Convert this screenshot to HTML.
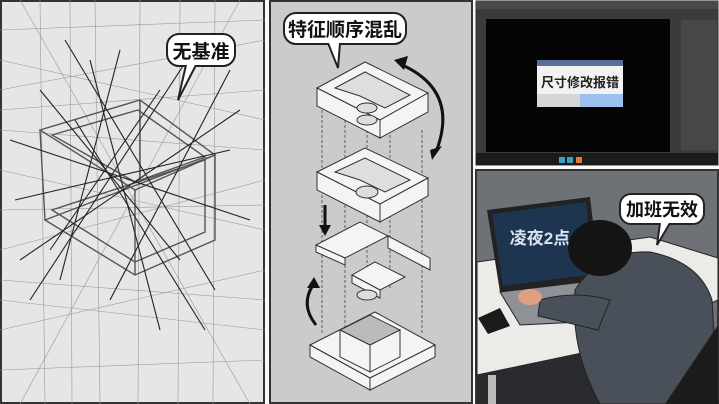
<!DOCTYPE html>
<html><head><meta charset="utf-8"><style>
html,body{margin:0;padding:0;background:#fff;}
svg{display:block;}
text{font-family:"Liberation Sans","Noto Sans CJK SC",sans-serif;font-weight:bold;}
</style></head><body>
<svg width="719" height="404" viewBox="0 0 719 404" xmlns="http://www.w3.org/2000/svg">
<rect width="719" height="404" fill="#fafafa"/>
<!-- LEFT PANEL -->
<rect x="1" y="1" width="263" height="402" fill="#e6e6e6" stroke="#333" stroke-width="2"/>
<g stroke="#999" stroke-width="0.6" fill="none">
<line x1="0" y1="60" x2="265" y2="120"/><line x1="0" y1="90" x2="265" y2="40"/><line x1="0" y1="170" x2="265" y2="230"/>
<line x1="0" y1="250" x2="265" y2="180"/><line x1="0" y1="300" x2="265" y2="330"/><line x1="0" y1="330" x2="265" y2="270"/>
<line x1="40" y1="0" x2="45" y2="404"/><line x1="95" y1="0" x2="100" y2="404"/><line x1="140" y1="0" x2="138" y2="404"/>
<line x1="215" y1="0" x2="213" y2="404"/><line x1="0" y1="130" x2="265" y2="150"/><line x1="0" y1="210" x2="265" y2="205"/>
<line x1="20" y1="0" x2="250" y2="404"/><line x1="240" y1="0" x2="20" y2="404"/><line x1="0" y1="370" x2="265" y2="360"/>
<line x1="0" y1="30" x2="265" y2="20"/><line x1="70" y1="0" x2="72" y2="404"/><line x1="180" y1="0" x2="178" y2="404"/>
<line x1="0" y1="280" x2="265" y2="300"/><line x1="0" y1="110" x2="265" y2="90"/>
</g>
<g stroke="#555" stroke-width="1.4" fill="none">
<polygon points="40,130 140,100 215,155 135,190"/>
<polygon points="45,220 135,275 215,240 215,155"/>
<line x1="40" y1="130" x2="45" y2="220"/><line x1="135" y1="190" x2="135" y2="275"/>
<polygon points="52,135 138,110 205,157 135,182"/>
<polygon points="52,210 135,262 205,232 205,160"/>
<line x1="140" y1="100" x2="140" y2="180"/>
</g>
<g stroke="#222" stroke-width="1.1">
<line x1="65" y1="40" x2="215" y2="290"/><line x1="200" y1="40" x2="30" y2="300"/><line x1="10" y1="140" x2="250" y2="220"/>
<line x1="20" y1="260" x2="240" y2="110"/><line x1="90" y1="60" x2="160" y2="330"/><line x1="40" y1="90" x2="180" y2="260"/>
<line x1="120" y1="50" x2="60" y2="280"/><line x1="15" y1="200" x2="230" y2="150"/><line x1="160" y1="90" x2="50" y2="250"/>
<line x1="75" y1="120" x2="205" y2="330"/><line x1="230" y1="70" x2="110" y2="300"/>
</g>
<rect x="167" y="34" width="68" height="32" rx="12" fill="#fff" stroke="#222" stroke-width="2"/>
<path d="M186,65 L178,100 L196,65" fill="#fff" stroke="#222" stroke-width="2"/>
<rect x="180" y="60" width="20" height="5" fill="#fff"/>
<text x="201" y="58" font-size="19" text-anchor="middle" fill="#111">无基准</text>

<!-- MIDDLE PANEL -->
<rect x="270" y="1" width="202" height="402" fill="#cbcbcb" stroke="#333" stroke-width="2"/>
<g stroke="#444" stroke-width="0.8" stroke-dasharray="3,2">
<line x1="322" y1="100" x2="322" y2="335"/><line x1="345" y1="100" x2="345" y2="330"/><line x1="390" y1="130" x2="390" y2="290"/>
<line x1="422" y1="130" x2="422" y2="335"/><line x1="367" y1="110" x2="367" y2="300"/>
</g>
<g fill="#f4f4f4" stroke="#333" stroke-width="1">
<polygon points="317,88 365,62 428,93 380,120"/>
<polygon points="317,88 380,120 380,138 317,106"/>
<polygon points="380,120 428,93 428,112 380,138"/>
<polygon points="335,88 365,72 410,95 385,108 360,96" fill="#dedede"/>
<polygon points="317,172 365,148 428,178 380,204"/>
<polygon points="317,172 380,204 380,222 317,190"/>
<polygon points="380,204 428,178 428,196 380,222"/>
<polygon points="335,172 365,158 410,180 385,192 360,180" fill="#dedede"/>
<polygon points="316,245 360,222 388,236 345,258"/>
<polygon points="316,245 345,258 345,265 316,252"/>
<polygon points="388,236 430,258 430,270 388,248"/>
<polygon points="352,275 375,262 405,277 380,290"/>
<polygon points="352,275 380,290 380,298 352,283"/>
<polygon points="310,345 375,312 435,345 370,378"/>
<polygon points="310,345 370,378 370,390 310,357"/>
<polygon points="370,378 435,345 435,357 370,390"/>
<polygon points="340,330 370,315 400,330 370,345" fill="#bbb"/>
<polygon points="340,330 370,345 370,372 340,357"/>
<polygon points="370,345 400,330 400,357 370,372"/>
</g>
<g fill="#ddd" stroke="#333"><ellipse cx="367" cy="108" rx="10" ry="5"/><ellipse cx="367" cy="120" rx="10" ry="5"/><ellipse cx="367" cy="192" rx="11" ry="6"/><ellipse cx="367" cy="295" rx="10" ry="5"/></g>
<g fill="none" stroke="#111" stroke-width="3">
<path d="M400,64 Q460,90 436,152"/><path d="M325,205 L325,228"/><path d="M316,325 Q300,305 313,285"/>
</g>
<g fill="#111"><polygon points="394,60 408,56 404,70"/><polygon points="430,150 442,146 432,160"/><polygon points="319,225 331,225 325,236"/><polygon points="307,288 320,288 314,277"/></g>
<rect x="284" y="13" width="122" height="31" rx="12" fill="#fff" stroke="#222" stroke-width="2"/>
<path d="M328,43 L338,68 L340,43" fill="#fff" stroke="#222" stroke-width="2"/>
<rect x="326" y="38" width="16" height="5" fill="#fff"/>
<text x="345" y="36" font-size="19" text-anchor="middle" fill="#111">特征顺序混乱</text>

<!-- RIGHT TOP -->
<rect x="476" y="1" width="242" height="164" fill="#3b3b3b" stroke="#333" stroke-width="1"/>
<rect x="476" y="1" width="242" height="8" fill="#4a4a4a"/>
<rect x="476" y="153" width="242" height="12" fill="#1c1c1c"/>
<rect x="486" y="19" width="184" height="133" fill="#050505"/>
<rect x="681" y="20" width="36" height="130" fill="#474747"/>
<rect x="537" y="60" width="86" height="47" fill="#f2f2f2"/>
<rect x="537" y="60" width="86" height="6" fill="#5a6e9a"/>
<rect x="537" y="94" width="43" height="13" fill="#d6d6d6"/>
<rect x="580" y="94" width="43" height="13" fill="#9cc0ee"/>
<text x="580" y="87" font-size="13" text-anchor="middle" fill="#222" font-weight="normal">尺寸修改报错</text>
<rect x="559" y="157" width="6" height="6" fill="#3aa0c8"/><rect x="567" y="157" width="6" height="6" fill="#3aa0c8"/><rect x="576" y="157" width="6" height="6" fill="#e8782a"/>

<!-- RIGHT BOTTOM -->
<rect x="476" y="170" width="242" height="233" fill="#6e7175" stroke="#333" stroke-width="2"/>
<polygon points="477,262 650,237 718,258 718,300 620,345 477,375" fill="#ecebe8" stroke="#222"/>
<polygon points="477,375 620,345 680,404 477,404" fill="#2a2b2e"/>
<rect x="488" y="375" width="8" height="29" fill="#bbb"/>
<!-- laptop -->
<polygon points="487,210 590,197 600,280 500,292" fill="#222"/>
<polygon points="492,214 586,202 594,274 503,286" fill="#1e3550"/>
<text x="540" y="244" font-size="17" fill="#d8e4f2" text-anchor="middle" font-weight="normal">凌夜2点</text>
<polygon points="500,292 600,280 620,320 520,325" fill="#8e9196" stroke="#222"/>
<polygon points="478,318 500,308 510,326 488,334" fill="#1a1a1a"/>
<!-- person -->
<path d="M575,290 Q600,250 650,252 Q700,262 712,300 L718,404 L600,404 Q570,350 575,290Z" fill="#4a5059" stroke="#222"/>
<ellipse cx="600" cy="248" rx="32" ry="28" fill="#141414"/>
<path d="M540,300 Q575,290 610,300 L598,330 Q565,322 538,316Z" fill="#4a5059" stroke="#222"/>
<ellipse cx="530" cy="297" rx="12" ry="8" fill="#e0a080"/>
<polygon points="665,404 718,325 718,404" fill="#1c1c1c"/>
<rect x="620" y="194" width="84" height="30" rx="11" fill="#fff" stroke="#222" stroke-width="2"/>
<path d="M660,223 L657,245 L670,223" fill="#fff" stroke="#222" stroke-width="2"/>
<rect x="658" y="218" width="14" height="5" fill="#fff"/>
<text x="662" y="216" font-size="18" text-anchor="middle" fill="#111">加班无效</text>
</svg>
</body></html>
